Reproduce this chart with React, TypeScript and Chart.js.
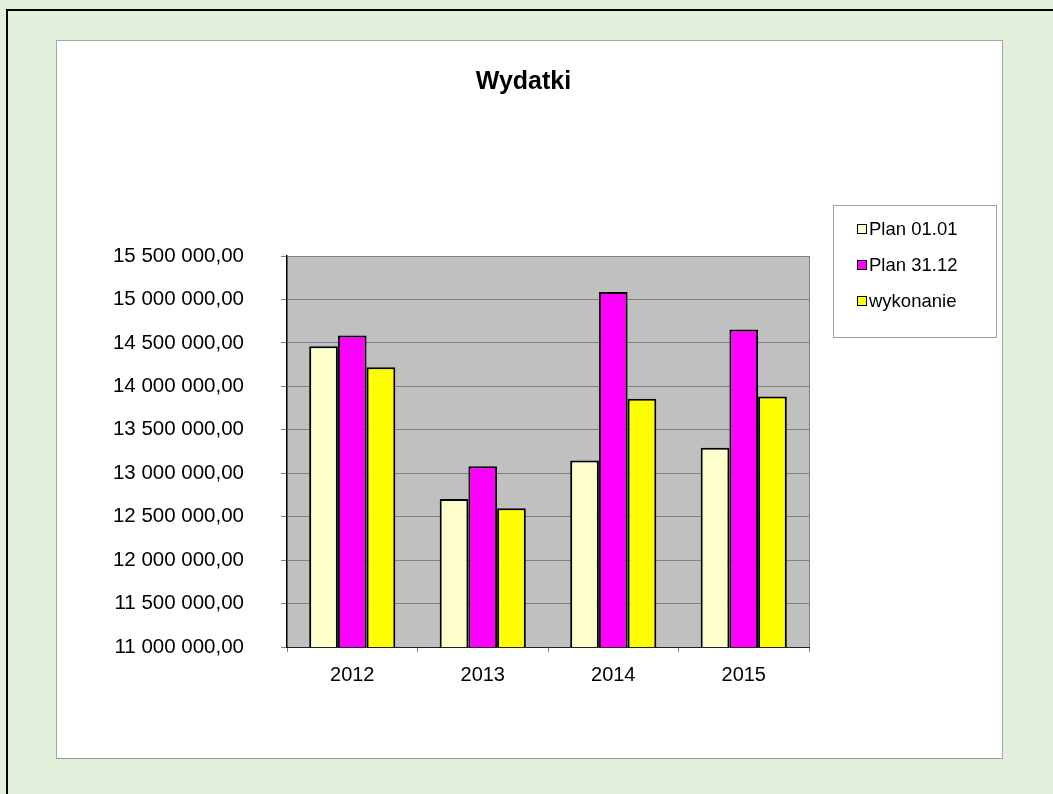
import React, { useEffect, useRef } from "react";
import { Chart, registerables } from "chart.js";

Chart.register(...registerables);

const categories = ["2012", "2013", "2014", "2015"];
const seriesNames = ["Plan 01.01", "Plan 31.12", "wykonanie"];
const plan0101 = [14462000, 12704000, 13145000, 13293000];
const plan3112 = [14585000, 13080000, 15086000, 14654000];
const wykonanie = [14221000, 12597000, 13856000, 13884000];
const seriesColors = ["#FFFFCC", "#FF00FF", "#FFFF00"];
const yMin = 11000000;
const yMax = 15500000;
const yStep = 500000;
const titleText = "Wydatki";

const FONT = "'Liberation Sans', Arial, sans-serif";

function formatPl(v: number): string {
  const s = Math.round(v).toString().replace(/\B(?=(\d{3})+(?!\d))/g, " ");
  return s + ",00";
}

const decorPlugin = {
  id: "decor",
  beforeDraw(chart: any) {
    const { ctx, chartArea } = chart;
    ctx.save();
    ctx.fillStyle = "#C0C0C0";
    ctx.fillRect(chartArea.left, chartArea.top, chartArea.right - chartArea.left, chartArea.bottom - chartArea.top);
    ctx.restore();
  },
  beforeDatasetsDraw(chart: any) {
    const { ctx, chartArea } = chart;
    ctx.save();
    ctx.strokeStyle = "#808080";
    ctx.lineWidth = 1;
    ctx.beginPath();
    ctx.moveTo(Math.round(chartArea.right) + 0.5, chartArea.top);
    ctx.lineTo(Math.round(chartArea.right) + 0.5, chartArea.bottom);
    ctx.stroke();
    ctx.restore();
  },
  afterDraw(chart: any) {
    const { ctx } = chart;
    ctx.save();
    // title
    ctx.fillStyle = "#000";
    ctx.font = `bold 25px ${FONT}`;
    ctx.textAlign = "center";
    ctx.textBaseline = "middle";
    ctx.fillText(titleText, 523.5, 82);
    // legend box
    const bx = 833.5, by = 205.5, bw = 163, bh = 132;
    ctx.fillStyle = "#FFFFFF";
    ctx.fillRect(bx, by, bw, bh);
    ctx.strokeStyle = "#A0A0A0";
    ctx.lineWidth = 1;
    ctx.strokeRect(bx, by, bw, bh);
    const rows = [229, 265, 301];
    ctx.font = `18.5px ${FONT}`;
    ctx.textAlign = "left";
    chart.data.datasets.forEach((ds: any, i: number) => {
      const y = rows[i];
      ctx.fillStyle = ds.backgroundColor;
      ctx.fillRect(857.5, y - 4.5, 9, 9);
      ctx.strokeStyle = "#000";
      ctx.strokeRect(857.5, y - 4.5, 9, 9);
      ctx.fillStyle = "#000";
      ctx.fillText(ds.label, 869, y + 1);
    });
    ctx.restore();
  },
};

export default function App() {
  const ref = useRef<HTMLCanvasElement | null>(null);

  useEffect(() => {
    if (!ref.current) return;
    const allData = [plan0101, plan3112, wykonanie];
    const chart = new Chart(ref.current, {
      type: "bar",
      data: {
        labels: categories,
        datasets: seriesNames.map((name, i) => ({
          label: name,
          data: allData[i],
          backgroundColor: seriesColors[i],
          borderColor: "#000000",
          borderWidth: 2,
          categoryPercentage: 0.66,
          barPercentage: 1,
        })),
      },
      options: {
        responsive: false,
        animation: false,
        layout: { padding: { left: 100, top: 256, right: 244, bottom: 107 } },
        plugins: {
          legend: { display: false },
          title: { display: false },
          tooltip: { enabled: false },
        },
        scales: {
          x: {
            afterFit: (s: any) => { s.height = 40; },
            grid: {
              display: true,
              drawOnChartArea: false,
              drawTicks: true,
              tickLength: 5,
              color: "#808080",
              offset: true,
            },
            border: { display: true, color: "#202020", width: 1 },
            ticks: {
              color: "#000",
              font: { family: FONT, size: 20 },
              padding: 11,
            },
          },
          y: {
            min: yMin,
            max: yMax,
            afterFit: (s: any) => { s.width = 187; },
            grid: {
              color: "#808080",
              lineWidth: 1,
              drawTicks: true,
              tickLength: 6,
            },
            border: { display: true, color: "#000", width: 1.5 },
            ticks: {
              stepSize: yStep,
              color: "#000",
              font: { family: FONT, size: 20.5 },
              padding: 37,
              callback: (v: any) => formatPl(Number(v)),
            },
          },
        },
      },
      plugins: [decorPlugin],
    });
    return () => chart.destroy();
  }, []);

  return (
    <div
      style={{
        position: "fixed",
        left: 0,
        top: 0,
        width: 1053,
        height: 794,
        overflow: "hidden",
        background: "rgb(226,239,218)",
      }}
    >
      <div
        style={{
          position: "absolute",
          left: 6,
          top: 9,
          width: 2000,
          height: 2000,
          borderTop: "2px solid #000",
          borderLeft: "2px solid #000",
        }}
      />
      <div
        style={{
          position: "absolute",
          left: 56,
          top: 40,
          width: 947,
          height: 719,
          boxSizing: "border-box",
          border: "1px solid #A6A6A6",
          borderBottomColor: "#8E9A8A",
          background: "#FFFFFF",
        }}
      />
      <canvas
        ref={ref}
        width={1053}
        height={794}
        style={{ position: "absolute", left: 0, top: 0, width: 1053, height: 794 }}
      />
    </div>
  );
}
